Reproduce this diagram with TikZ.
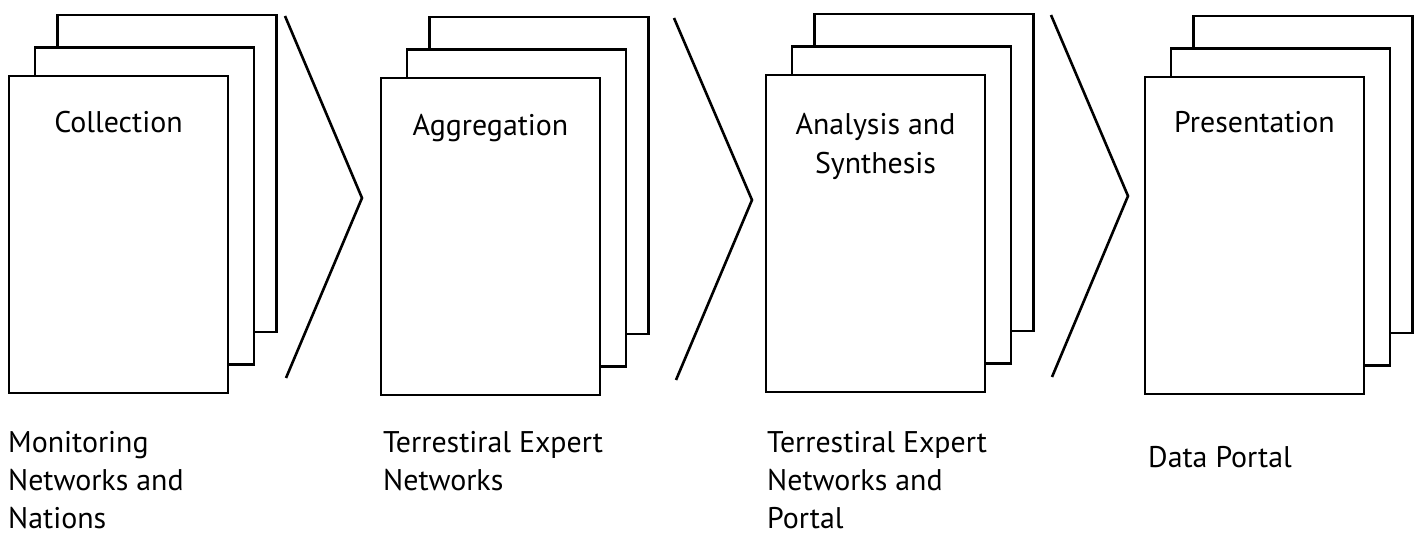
\documentclass[tikz,border=0pt]{standalone}
\usepackage{fontspec}
\setmainfont{PT Sans}
\begin{document}
\begin{tikzpicture}[x=1bp,y=-1bp,
  page/.style={draw=black, fill=white, line width=2.6bp, minimum width=219bp,
    minimum height=317bp, inner sep=0pt, outer sep=0pt, anchor=north west},
  chevron/.style={draw=black, line width=2.6bp, line join=miter},
  ttl/.style={font=\fontsize{30}{38.5}\selectfont, inner sep=0pt, anchor=base},
  lbl/.style={font=\fontsize{30}{38.5}\selectfont, inner sep=0pt, anchor=base west},
]
\useasboundingbox (0,0) rectangle (1421,533);

% one stack of three sheets: back, middle, front
\newcommand{\sheetstack}[3]{%
  \node[page] (#3back) at (#1+48.5,#2-61) {};
  \node[page] (#3mid)  at (#1+26,#2-28.5) {};
  \node[page] (#3)     at (#1,#2) {};
}
\sheetstack{9}{76}{col}
\sheetstack{381}{78}{agg}
\sheetstack{766}{75}{ana}
\sheetstack{1145}{77}{pre}

% stage titles
\node[ttl] (tcol) at ([yshift=-57bp]col.north) {Collection};
\node[ttl] (tagg) at ([yshift=-58bp]agg.north) {Aggregation};
\node[ttl] (tana) at ([yshift=-60bp]ana.north) {\begin{tabular}[t]{@{}c@{}}Analysis and\\Synthesis\end{tabular}};
\node[ttl] (tpre) at ([yshift=-56bp]pre.north) {Presentation};

% chevrons between the stages
\coordinate (c1a) at (285,16);  \coordinate (c1b) at (362,198);  \coordinate (c1c) at (286,378);
\coordinate (c2a) at (674,18);  \coordinate (c2b) at (752,200);  \coordinate (c2c) at (676,380);
\coordinate (c3a) at (1051,15); \coordinate (c3b) at (1128,196); \coordinate (c3c) at (1052,377);
\draw[chevron] (c1a) -- (c1b) -- (c1c);
\draw[chevron] (c2a) -- (c2b) -- (c2c);
\draw[chevron] (c3a) -- (c3b) -- (c3c);

% actors below each stage
\node[lbl] (acol) at (8,452) {\begin{tabular}[t]{@{}l@{}}Monitoring\\Networks and\\Nations\end{tabular}};
\node[lbl] (aagg) at (383,452) {\begin{tabular}[t]{@{}l@{}}Terrestiral Expert\\Networks\end{tabular}};
\node[lbl] (aana) at (767,452) {\begin{tabular}[t]{@{}l@{}}Terrestiral Expert\\Networks and\\Portal\end{tabular}};
\node[lbl] (apre) at (1148,467) {Data Portal};
\end{tikzpicture}
\end{document}
